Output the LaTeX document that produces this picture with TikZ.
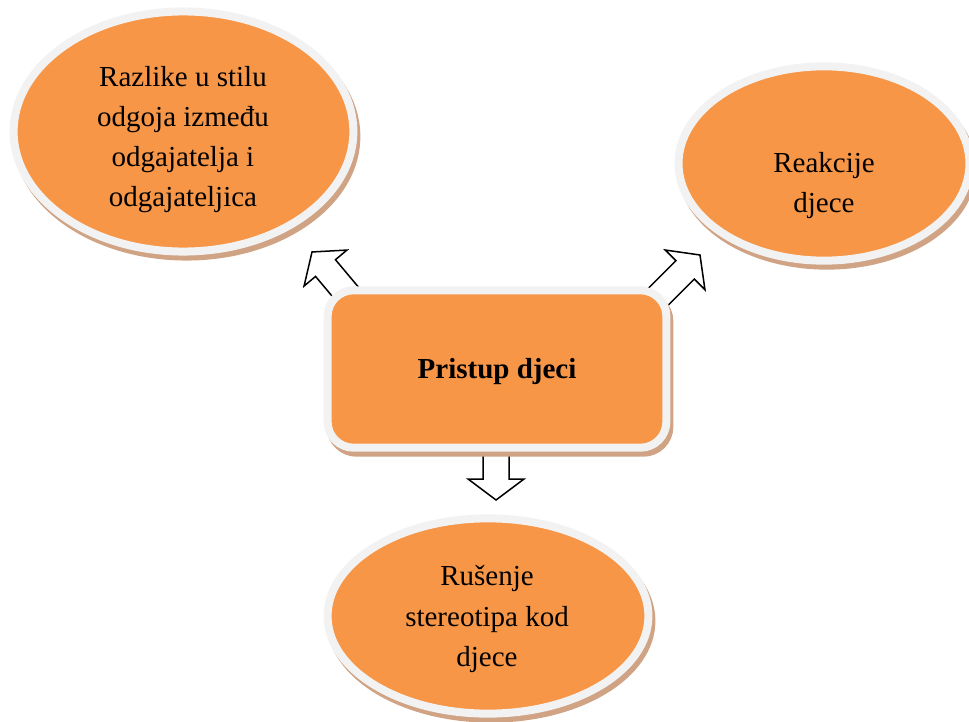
\documentclass[tikz,border=0pt]{standalone}
\usepackage{fontspec}
\setmainfont{Liberation Serif}
\usetikzlibrary{shapes.geometric}

\definecolor{fillorange}{HTML}{F79646}
\definecolor{rimgray}{HTML}{F2F2F2}
\definecolor{shadowtan}{RGB}{207,163,132}

% uniform line box: 20bp above and 19bp below the baseline
\newcommand{\linestrut}{\rule[-19bp]{0pt}{39bp}}

\begin{document}
\begin{tikzpicture}[x=1bp, y=-1bp,
  softshadow/.style={preaction={draw=shadowtan, fill=shadowtan, line width=8bp,
      transform canvas={xshift=3bp, yshift=-5bp}}},
  bubble/.style={ellipse, softshadow, draw=rimgray, line width=8bp,
      fill=fillorange, inner sep=0pt},
  hubbox/.style={rectangle, rounded corners=26bp, softshadow, draw=rimgray,
      line width=8bp, fill=fillorange, inner sep=0pt},
  caption/.style={align=center, inner sep=0pt, text=black,
      font=\fontsize{29bp}{39bp}\selectfont},
  arrowline/.style={draw=black, line width=1.5bp, fill=white, line join=miter},
  pics/blockarrow/.style={code={
      \draw[arrowline] (0,-13) -- (49,-13) -- (49,-28) -- (70,0)
        -- (49,28) -- (49,13) -- (0,13) -- cycle;}}
]
\useasboundingbox (0,0) rectangle (969,722);

% outer topics
\node[bubble, minimum width=341, minimum height=241] (razlike) at (183.5,131.5) {};
\node[bubble, minimum width=292, minimum height=195] (reakcije) at (824,163.5) {};
\node[bubble, minimum width=322, minimum height=196] (rusenje) at (488,616) {};

% block arrows leaving the central box
\pic (toleft)  [rotate=130] at (357,305.6) {blockarrow};
\pic (toright) [rotate=45]  at (650.5,304.5) {blockarrow};
\pic (todown)  [rotate=-90] at (496,430) {blockarrow};

% central box
\node[hubbox, minimum width=340, minimum height=158] (pristup) at (497,369) {};

% texts
\node[caption] (razlike-txt) at (183,146)
  {\linestrut Razlike u stilu\\ \linestrut odgoja između\\
   \linestrut odgajatelja i\\ \linestrut odgajateljica};
\node[caption] (reakcije-txt) at (824,192)
  {\linestrut Reakcije\\ \linestrut djece};
\node[caption] (rusenje-txt) at (487,625.5)
  {\linestrut Rušenje\\ \linestrut stereotipa kod\\ \linestrut djece};
\node[caption, font=\fontsize{29bp}{39bp}\selectfont\bfseries] (pristup-txt) at (497,377.5)
  {\linestrut Pristup djeci};
\end{tikzpicture}
\end{document}
